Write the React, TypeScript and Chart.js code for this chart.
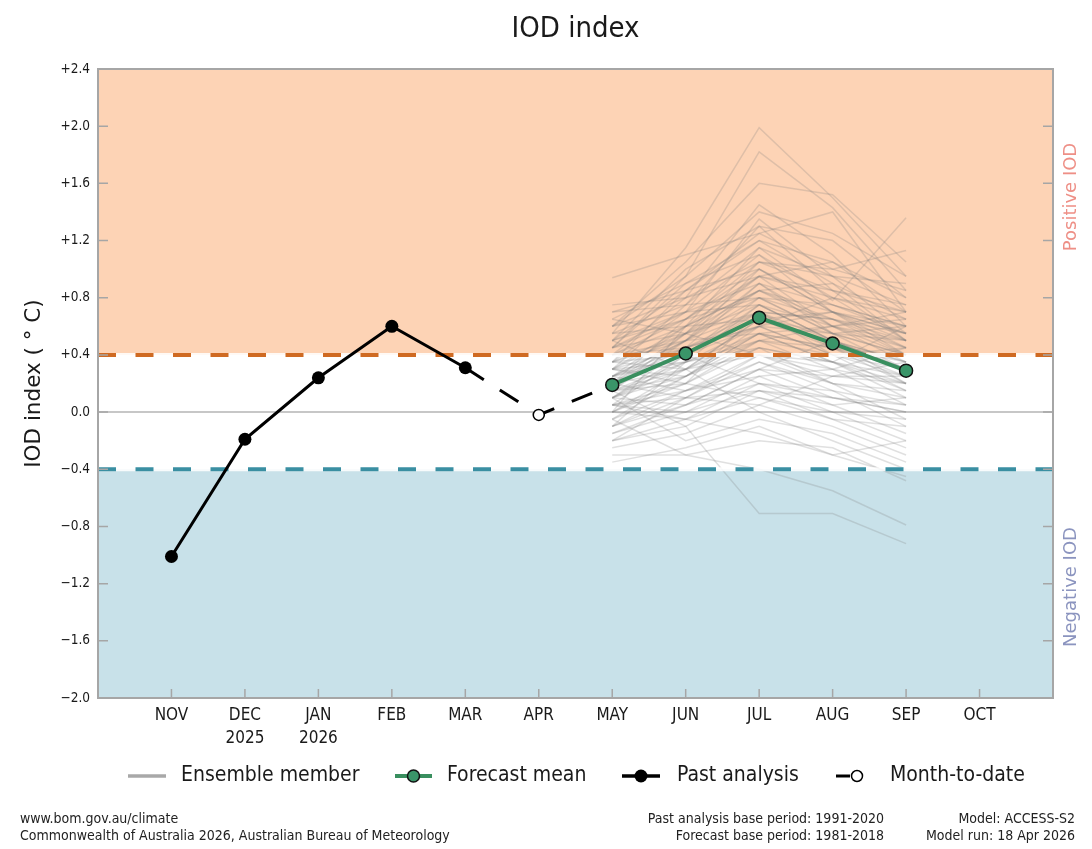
import React, { useEffect, useRef } from 'react';
import { Chart, registerables } from 'chart.js';

Chart.register(...registerables);

// ---------------- data ----------------
const months = ['NOV', 'DEC', 'JAN', 'FEB', 'MAR', 'APR', 'MAY', 'JUN', 'JUL', 'AUG', 'SEP', 'OCT'];
const monthYears = ['', '2025', '2026', '', '', '', '', '', '', '', '', ''];

// Past analysis NOV..MAR (month index 0..4)
const pastAnalysis = [-1.01, -0.19, 0.24, 0.6, 0.31];
// Month-to-date APR (month index 5)
const monthToDate = -0.02;
// Forecast mean MAY..SEP (month index 6..10)
const forecastMean = [0.19, 0.41, 0.66, 0.48, 0.29];

// Ensemble members MAY..SEP
const ensembleMembers: number[][] = [
  [0.55, 1.15, 1.99, 1.5, 0.95],
  [0.45, 0.95, 1.82, 1.43, 0.85],
  [0.6, 1.05, 1.6, 1.52, 1.05],
  [0.94, 1.1, 1.25, 1.4, 0.7],
  [0.4, 0.8, 1.45, 1.1, 0.6],
  [0.35, 0.7, 1.35, 0.95, 0.55],
  [0.3, 0.75, 1.3, 1.2, 0.8],
  [0.5, 0.85, 1.2, 0.9, 0.5],
  [0.25, 0.6, 1.15, 0.78, 1.36],
  [0.2, 0.55, 1.05, 1.0, 1.13],
  [0.65, 0.9, 1.1, 0.8, 0.65],
  [0.15, 0.5, 1.0, 0.7, 0.4],
  [0.45, 0.65, 0.95, 0.85, 0.75],
  [0.1, 0.45, 0.9, 0.6, 0.35],
  [0.35, 0.55, 0.85, 0.65, 0.45],
  [0.7, 0.75, 0.8, 0.55, 0.3],
  [0.05, 0.4, 0.8, 0.75, 0.6],
  [0.25, 0.35, 0.75, 0.5, 0.2],
  [0.3, 0.45, 0.7, 0.45, 0.25],
  [0.0, 0.3, 0.65, 0.55, 0.5],
  [0.2, 0.4, 0.6, 0.4, 0.15],
  [-0.05, 0.25, 0.55, 0.35, 0.1],
  [0.4, 0.5, 0.55, 0.6, 0.7],
  [0.15, 0.2, 0.5, 0.3, 0.05],
  [0.1, 0.35, 0.45, 0.2, -0.05],
  [-0.1, 0.15, 0.4, 0.25, 0.2],
  [0.55, 0.6, 0.65, 0.45, 0.35],
  [0.05, 0.1, 0.35, 0.15, -0.1],
  [-0.15, 0.05, 0.3, 0.1, 0.0],
  [0.25, 0.15, 0.25, 0.05, -0.15],
  [0.0, -0.05, 0.2, 0.0, -0.2],
  [-0.2, -0.1, 0.15, 0.05, 0.1],
  [0.3, 0.2, 0.1, -0.05, -0.25],
  [-0.25, -0.15, 0.05, -0.1, -0.3],
  [0.1, -0.2, -0.05, -0.15, -0.35],
  [-0.3, -0.3, -0.2, -0.25, -0.48],
  [0.15, -0.1, -0.71, -0.71, -0.92],
  [-0.05, -0.3, -0.4, -0.55, -0.79],
  [0.5, 0.3, 0.0, -0.2, -0.4],
  [-0.35, -0.25, -0.1, -0.3, -0.2],
  [0.2, 0.65, 1.05, 0.95, 0.9],
  [0.35, 0.85, 1.25, 1.0, 0.85],
  [0.6, 0.95, 1.4, 1.25, 0.95],
  [0.15, 0.55, 0.95, 1.05, 0.8],
  [0.45, 0.7, 1.1, 0.7, 0.45],
  [0.0, 0.6, 0.85, 0.9, 0.65],
  [0.25, 0.5, 0.9, 0.55, 0.6],
  [0.05, 0.2, 0.7, 0.65, 0.55],
  [0.4, 0.45, 0.6, 0.8, 0.5],
  [-0.1, 0.35, 0.5, 0.45, 0.4],
  [0.3, 0.25, 0.45, 0.35, 0.6],
  [0.1, 0.05, 0.3, 0.5, 0.3],
  [0.65, 0.55, 0.4, 0.2, 0.15],
  [-0.15, 0.0, 0.25, 0.3, 0.45],
  [0.2, 0.1, 0.05, 0.25, 0.25],
  [0.75, 0.8, 0.95, 0.6, 0.4],
  [0.35, 0.4, 0.2, 0.1, 0.05],
  [-0.2, 0.1, 0.15, -0.05, -0.1],
  [0.05, -0.05, -0.15, -0.3, -0.45],
  [0.5, 1.0, 1.3, 0.85, 0.5],
  [0.3, 0.55, 0.75, 0.6, 0.45],
  [0.2, 0.45, 0.65, 0.5, 0.35],
  [0.1, 0.3, 0.55, 0.45, 0.3],
  [0.4, 0.6, 0.85, 0.7, 0.55],
  [0.25, 0.4, 0.7, 0.65, 0.5],
  [0.15, 0.35, 0.6, 0.4, 0.25],
  [0.5, 0.7, 0.9, 0.75, 0.6],
  [0.0, 0.2, 0.45, 0.35, 0.2],
  [0.35, 0.5, 0.8, 0.55, 0.4],
  [-0.05, 0.15, 0.35, 0.2, 0.1],
  [0.6, 0.8, 1.05, 0.85, 0.7],
  [0.1, 0.25, 0.5, 0.6, 0.65],
  [0.45, 0.55, 0.7, 0.5, 0.3],
  [0.2, 0.3, 0.4, 0.3, 0.2],
  [-0.1, 0.05, 0.2, 0.15, 0.05],
  [0.3, 0.6, 0.95, 0.8, 0.7],
  [0.55, 0.75, 1.15, 0.95, 0.75],
  [0.05, 0.15, 0.3, 0.25, 0.35],
  [0.15, 0.25, 0.55, 0.35, 0.15],
  [0.4, 0.65, 1.0, 0.75, 0.55],
  [-0.2, -0.05, 0.1, 0.0, -0.05],
  [0.25, 0.45, 0.6, 0.7, 0.6],
  [0.7, 0.85, 1.0, 0.7, 0.5],
  [0.1, 0.4, 0.75, 0.5, 0.3],
  [0.35, 0.3, 0.5, 0.4, 0.45],
  [0.0, 0.25, 0.6, 0.55, 0.4],
  [0.5, 0.65, 0.8, 0.65, 0.4],
  [0.2, 0.5, 0.85, 0.6, 0.5],
  [-0.1, 0.1, 0.4, 0.35, 0.25],
  [0.3, 0.35, 0.55, 0.45, 0.2],
  [0.45, 0.9, 1.2, 1.05, 0.7],
  [0.15, 0.3, 0.65, 0.7, 0.55],
  [0.6, 0.7, 0.75, 0.5, 0.35],
  [0.05, 0.0, 0.15, 0.1, 0.0],
  [0.25, 0.5, 0.7, 0.4, 0.3],
];

const positiveThreshold = 0.4;
const negativeThreshold = -0.4;
const yMin = -2.0;
const yMax = 2.4;
const yStep = 0.4;

const titleText = 'IOD index';
const yAxisTitle = 'IOD index ( \u00B0 C)';
const positiveLabel = 'Positive IOD';
const negativeLabel = 'Negative IOD';
const legendLabels = ['Ensemble member', 'Forecast mean', 'Past analysis', 'Month-to-date'];
const footerLeft = ['www.bom.gov.au/climate', 'Commonwealth of Australia 2026, Australian Bureau of Meteorology'];
const footerMid = ['Past analysis base period: 1991-2020', 'Forecast base period: 1981-2018'];
const footerRight = ['Model: ACCESS-S2', 'Model run: 18 Apr 2026'];

// ---------------- styles ----------------
const FONT_C = "'DejaVu Sans Condensed', 'Liberation Sans Narrow', 'DejaVu Sans', sans-serif";
const FONT_R = "'DejaVu Sans', sans-serif";
const POS_FILL = '#fdd3b5';
const NEG_FILL = '#c8e1e9';
const POS_LINE = '#cf6a22';
const NEG_LINE = '#3a8fa2';
const ENS_COLOR = 'rgba(125,125,125,0.24)';
const MEAN_LINE = '#398f5f';
const MEAN_FILL = '#3a9569';
const FRAME = '#a6a6a6';
const TEXT = '#1a1a1a';

const decorPlugin = {
  id: 'iodDecor',
  beforeDatasetsDraw(chart: any) {
    const { ctx, chartArea: a, scales } = chart;
    const y = scales.y;
    const yp = y.getPixelForValue(positiveThreshold);
    const yn = y.getPixelForValue(negativeThreshold);
    const y0 = y.getPixelForValue(0);
    ctx.save();
    ctx.fillStyle = POS_FILL;
    ctx.fillRect(a.left, a.top, a.right - a.left, yp - a.top);
    ctx.fillStyle = NEG_FILL;
    ctx.fillRect(a.left, yn, a.right - a.left, a.bottom - yn);
    ctx.strokeStyle = '#b4b4b4';
    ctx.lineWidth = 1.5;
    ctx.beginPath();
    ctx.moveTo(a.left, y0);
    ctx.lineTo(a.right, y0);
    ctx.stroke();
    ctx.restore();
  },
  beforeDatasetDraw(chart: any, args: any) {
    const ds = chart.data.datasets[args.index];
    if (ds.label !== 'Month-to-date') return;
    const { ctx, chartArea: a, scales } = chart;
    const y = scales.y;
    const lines: [number, string][] = [
      [positiveThreshold, POS_LINE],
      [negativeThreshold, NEG_LINE],
    ];
    ctx.save();
    for (const [v, c] of lines) {
      const py = y.getPixelForValue(v);
      ctx.lineWidth = 4;
      ctx.setLineDash([]);
      ctx.strokeStyle = 'rgba(255,255,255,0.85)';
      ctx.beginPath();
      ctx.moveTo(a.left, py);
      ctx.lineTo(a.right, py);
      ctx.stroke();
      ctx.setLineDash([18, 19.5]);
      ctx.strokeStyle = c;
      ctx.beginPath();
      ctx.moveTo(a.left, py);
      ctx.lineTo(a.right, py);
      ctx.stroke();
    }
    ctx.restore();
  },
  afterDraw(chart: any) {
    const { ctx, chartArea: a, scales } = chart;
    const x = scales.x;
    const y = scales.y;
    ctx.save();
    // inward ticks
    ctx.strokeStyle = FRAME;
    ctx.lineWidth = 1.5;
    ctx.setLineDash([]);
    for (const t of y.ticks) {
      const py = y.getPixelForValue(t.value);
      ctx.beginPath();
      ctx.moveTo(a.left, py);
      ctx.lineTo(a.left + 10, py);
      ctx.moveTo(a.right, py);
      ctx.lineTo(a.right - 10, py);
      ctx.stroke();
    }
    for (let i = 0; i < months.length; i++) {
      const px = x.getPixelForValue(i);
      ctx.beginPath();
      ctx.moveTo(px, a.bottom);
      ctx.lineTo(px, a.bottom - 9);
      ctx.stroke();
    }
    // frame
    ctx.lineWidth = 2;
    ctx.strokeRect(a.left, a.top, a.right - a.left, a.bottom - a.top);

    // title
    ctx.fillStyle = TEXT;
    ctx.font = `29px ${FONT_C}`;
    ctx.textAlign = 'center';
    ctx.textBaseline = 'alphabetic';
    ctx.fillText(titleText, (a.left + a.right) / 2, 37);

    // y-axis title
    ctx.save();
    ctx.translate(34, (a.top + a.bottom) / 2);
    ctx.rotate(-Math.PI / 2);
    ctx.font = `21.5px ${FONT_R}`;
    ctx.textAlign = 'center';
    ctx.textBaseline = 'middle';
    ctx.fillText(yAxisTitle, 0, 0);
    ctx.restore();

    // right side labels
    const side = (txt: string, cy: number, color: string) => {
      ctx.save();
      ctx.translate(1071, cy);
      ctx.rotate(-Math.PI / 2);
      ctx.font = `18px ${FONT_R}`;
      ctx.fillStyle = color;
      ctx.textAlign = 'center';
      ctx.textBaseline = 'middle';
      ctx.fillText(txt, 0, 0);
      ctx.restore();
    };
    side(positiveLabel, 197, '#ee8f86');
    side(negativeLabel, 587, '#8b94bf');

    // legend
    const ly = 776;
    ctx.lineCap = 'butt';
    ctx.strokeStyle = '#a8a8a8';
    ctx.lineWidth = 3.5;
    ctx.beginPath(); ctx.moveTo(128, ly); ctx.lineTo(166, ly); ctx.stroke();
    ctx.strokeStyle = MEAN_LINE;
    ctx.lineWidth = 4;
    ctx.beginPath(); ctx.moveTo(395, ly); ctx.lineTo(432, ly); ctx.stroke();
    ctx.fillStyle = MEAN_FILL;
    ctx.strokeStyle = '#111';
    ctx.lineWidth = 1.5;
    ctx.beginPath(); ctx.arc(413.5, ly, 6, 0, Math.PI * 2); ctx.fill(); ctx.stroke();
    ctx.strokeStyle = '#000';
    ctx.lineWidth = 3.5;
    ctx.beginPath(); ctx.moveTo(622, ly); ctx.lineTo(660, ly); ctx.stroke();
    ctx.fillStyle = '#000';
    ctx.beginPath(); ctx.arc(641, ly, 6.5, 0, Math.PI * 2); ctx.fill();
    ctx.lineWidth = 3;
    ctx.beginPath(); ctx.moveTo(836, ly); ctx.lineTo(850, ly); ctx.stroke();
    ctx.fillStyle = '#fff';
    ctx.lineWidth = 1.5;
    ctx.beginPath(); ctx.arc(857, ly, 5.5, 0, Math.PI * 2); ctx.fill(); ctx.stroke();

    ctx.fillStyle = TEXT;
    ctx.font = `21px ${FONT_C}`;
    ctx.textAlign = 'left';
    ctx.textBaseline = 'middle';
    const lx = [181, 447, 677, 890];
    legendLabels.forEach((t, i) => ctx.fillText(t, lx[i], ly));

    // footer
    ctx.font = `14px ${FONT_C}`;
    ctx.fillStyle = '#222';
    const fy = [819, 836];
    ctx.textAlign = 'left';
    footerLeft.forEach((t, i) => ctx.fillText(t, 20, fy[i]));
    ctx.textAlign = 'right';
    footerMid.forEach((t, i) => ctx.fillText(t, 884, fy[i]));
    footerRight.forEach((t, i) => ctx.fillText(t, 1075, fy[i]));
    ctx.restore();
  },
};

function fmtY(v: number): string {
  if (Math.abs(v) < 1e-9) return '0.0';
  return (v > 0 ? '+' : '\u2212') + Math.abs(v).toFixed(1);
}

function fmtX(v: number): string | string[] {
  const i = Math.round(v);
  if (Math.abs(v - i) > 1e-6 || i < 0 || i >= months.length) return '';
  return monthYears[i] ? [months[i], monthYears[i]] : months[i];
}

export default function App() {
  const ref = useRef<HTMLCanvasElement>(null);

  useEffect(() => {
    document.body.style.margin = '0';
    const canvas = ref.current;
    if (!canvas) return;

    const ensembleDatasets = ensembleMembers.map((m) => ({
      label: 'Ensemble member',
      data: m.map((v, j) => ({ x: 6 + j, y: v })),
      borderColor: ENS_COLOR,
      borderWidth: 1.5,
      pointRadius: 0,
      tension: 0,
      order: 10,
    }));

    const datasets: any[] = [
      {
        label: 'Past analysis',
        data: pastAnalysis.map((v, i) => ({ x: i, y: v })),
        borderColor: '#000',
        borderWidth: 3,
        pointRadius: 6.5,
        pointBackgroundColor: '#000',
        pointBorderColor: '#000',
        pointBorderWidth: 0,
        tension: 0,
        order: 0,
      },
      {
        label: 'Forecast mean',
        data: forecastMean.map((v, j) => ({ x: 6 + j, y: v })),
        borderColor: MEAN_LINE,
        borderWidth: 4,
        pointRadius: 6.5,
        pointBackgroundColor: MEAN_FILL,
        pointBorderColor: '#111',
        pointBorderWidth: 1.5,
        tension: 0,
        order: 1,
      },
      {
        label: 'Month-to-date',
        data: [
          { x: 4, y: pastAnalysis[4] },
          { x: 5, y: monthToDate },
          { x: 6, y: forecastMean[0] },
        ],
        borderColor: '#000',
        borderWidth: 3,
        borderDash: [22, 19],
        pointRadius: [0, 5.5, 0],
        pointBackgroundColor: '#fff',
        pointBorderColor: '#000',
        pointBorderWidth: 1.5,
        tension: 0,
        order: 2,
      },
      ...ensembleDatasets,
    ];

    const chart = new Chart(canvas, {
      type: 'line',
      data: { datasets },
      options: {
        responsive: false,
        animation: false,
        devicePixelRatio: 1,
        layout: { padding: { left: 38, right: 39, top: 69, bottom: 91 } },
        plugins: {
          legend: { display: false },
          tooltip: { enabled: false },
          title: { display: false },
        },
        scales: {
          x: {
            type: 'linear',
            min: -1,
            max: 12,
            afterFit: (s: any) => {
              s.height = 60;
            },
            ticks: {
              stepSize: 1,
              autoSkip: false,
              maxRotation: 0,
              minRotation: 0,
              padding: 7,
              color: TEXT,
              font: { family: FONT_C, size: 17, lineHeight: 1.3 },
              callback: (v: any) => fmtX(Number(v)),
            },
            grid: { display: false, drawTicks: false },
            border: { display: false },
          },
          y: {
            type: 'linear',
            min: yMin,
            max: yMax,
            afterFit: (s: any) => {
              s.width = 60;
            },
            ticks: {
              stepSize: yStep,
              padding: 8,
              color: TEXT,
              font: { family: FONT_C, size: 13.5 },
              callback: (v: any) => fmtY(Number(v)),
            },
            grid: { display: false, drawTicks: false },
            border: { display: false },
          },
        },
      } as any,
      plugins: [decorPlugin],
    });

    return () => chart.destroy();
  }, []);

  return (
    <div style={{ width: 1092, height: 849, position: 'relative' }}>
      <canvas ref={ref} width={1092} height={849} />
    </div>
  );
}
